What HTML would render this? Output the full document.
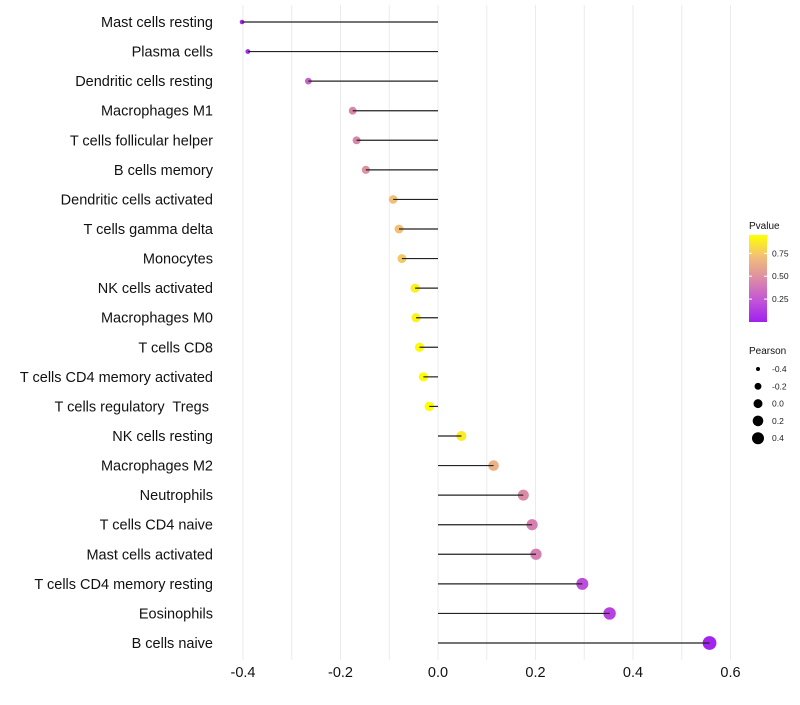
<!DOCTYPE html>
<html><head><meta charset="utf-8"><style>
body{margin:0;background:#fff;font-family:"Liberation Sans",sans-serif}
text{white-space:pre}
</style></head><body>
<svg id="chart" width="800" height="700" xmlns="http://www.w3.org/2000/svg"></svg>
<script>
const categories=["Mast cells resting","Plasma cells","Dendritic cells resting","Macrophages M1","T cells follicular helper","B cells memory","Dendritic cells activated","T cells gamma delta","Monocytes","NK cells activated","Macrophages M0","T cells CD8","T cells CD4 memory activated","T cells regulatory  Tregs ","NK cells resting","Macrophages M2","Neutrophils","T cells CD4 naive","Mast cells activated","T cells CD4 memory resting","Eosinophils","B cells naive"];
const pearson=[-0.402,-0.39,-0.266,-0.175,-0.167,-0.148,-0.092,-0.08,-0.074,-0.047,-0.045,-0.038,-0.03,-0.018,0.048,0.114,0.175,0.193,0.201,0.296,0.352,0.557];
const pvalue=[0.03,0.06,0.3,0.45,0.45,0.5,0.72,0.72,0.75,0.9,0.9,0.93,0.94,0.97,0.88,0.65,0.47,0.42,0.42,0.2,0.15,0.02];
const xTicks=[-0.4,-0.2,0.0,0.2,0.4,0.6];
const xTickLabels=["-0.4","-0.2","0.0","0.2","0.4","0.6"];
const pTicks=[0.25,0.5,0.75];
const sizeTicks=[-0.4,-0.2,0.0,0.2,0.4];
const NS="http://www.w3.org/2000/svg";
const svg=document.getElementById('chart');
function mk(t,a,p){const e=document.createElementNS(NS,t);for(const k in a)e.setAttribute(k,a[k]);(p||svg).appendChild(e);return e;}
const x=v=>438+v*487.5;
const y=i=>22+i*(643-22)/(categories.length-1);
const rad=v=>Math.sqrt(Math.max(1,23+44*v));
const stops=[[0,[160,32,240]],[0.25,[195,85,215]],[0.5,[220,140,165]],[0.75,[242,190,120]],[1,[255,255,0]]];
const pMin=0.0,pMax=0.95;
function col(p){let t=Math.min(1,Math.max(0,(p-pMin)/(pMax-pMin)));for(let i=1;i<stops.length;i++){if(t<=stops[i][0]){const a=stops[i-1],b=stops[i];const f=(t-a[0])/(b[0]-a[0]);const c=a[1].map((v,j)=>Math.round(v+(b[1][j]-v)*f));return `rgb(${c})`;}}return 'rgb(255,255,0)';}
for(let v=-0.4;v<=0.651;v+=0.1){const g=mk('line',{x1:x(v),x2:x(v),y1:5,y2:660,stroke:'#ebebeb','stroke-width':1});

}
categories.forEach((c,i)=>{
const p=mk('circle',{cx:x(pearson[i]),cy:y(i),r:rad(pearson[i]),fill:col(pvalue[i])});


const l=mk('line',{x1:x(0),x2:x(pearson[i]),y1:y(i),y2:y(i),stroke:'#222','stroke-width':1.2});


const t=mk('text',{x:213,y:y(i)+5,'text-anchor':'end','font-size':14.5,fill:'#111'});t.textContent=c;


});
xTicks.forEach((v,i)=>{const t=mk('text',{x:x(v),y:677,'text-anchor':'middle','font-size':14.5,fill:'#111'});t.textContent=xTickLabels[i];

});
const defs=mk('defs',{});const lg=mk('linearGradient',{id:'pg',x1:0,y1:1,x2:0,y2:0},defs);
stops.forEach(s=>mk('stop',{offset:s[0],'stop-color':`rgb(${s[1]})`},lg));
const lt=mk('text',{x:749,y:229,'font-size':10,fill:'#111'});lt.textContent='Pvalue';


const bar=mk('rect',{x:749,y:235,width:18,height:87,fill:'url(#pg)'});


const py=p=>322-(p-pMin)/(pMax-pMin)*87;
pTicks.forEach(p=>{mk('line',{x1:749,x2:752,y1:py(p),y2:py(p),stroke:'#fff'});mk('line',{x1:764,x2:767,y1:py(p),y2:py(p),stroke:'#fff'});
const t=mk('text',{x:772,y:py(p)+3,'font-size':8.5,fill:'#222'});t.textContent=p.toFixed(2);

});
const st=mk('text',{x:749,y:354,'font-size':10,fill:'#111'});st.textContent='Pearson';


sizeTicks.forEach((v,i)=>{const cy=369+i*17.3;mk('circle',{cx:758,cy:cy,r:Math.sqrt(Math.max(1,20+40*v)),fill:'#000'});
const t=mk('text',{x:772,y:cy+3,'font-size':8.5,fill:'#222'});t.textContent=v.toFixed(1);

});
</script>
</body></html>
